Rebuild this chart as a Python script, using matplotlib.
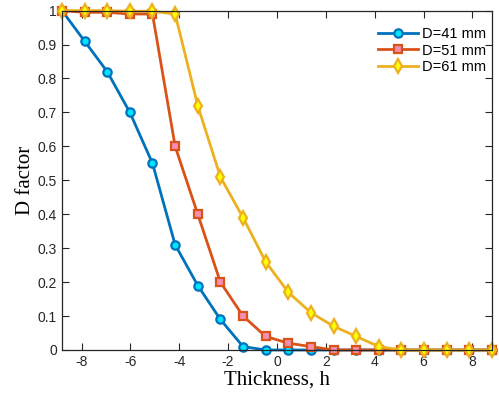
import numpy as np
import matplotlib
matplotlib.use("Agg")
import matplotlib.pyplot as plt

# Thickness samples (20 evenly spaced points across the scan)
h = [-8.8, -7.874, -6.947, -6.021, -5.095, -4.168, -3.242, -2.316, -1.389, -0.463,
     0.463, 1.389, 2.316, 3.242, 4.168, 5.095, 6.021, 6.947, 7.874, 8.8]

d41 = [1.0, 0.91, 0.82, 0.70, 0.55, 0.31, 0.19, 0.09, 0.01, 0.0,
       0.0, 0.0, 0.0, 0.0, 0.0, 0.0, 0.0, 0.0, 0.0, 0.0]
d51 = [1.0, 0.995, 0.995, 0.99, 0.99, 0.60, 0.40, 0.20, 0.10, 0.04,
       0.02, 0.01, 0.0, 0.0, 0.0, 0.0, 0.0, 0.0, 0.0, 0.0]
d61 = [1.0, 1.0, 1.0, 0.998, 0.998, 0.99, 0.72, 0.51, 0.39, 0.26,
       0.17, 0.11, 0.07, 0.04, 0.01, 0.0, 0.0, 0.0, 0.0, 0.0]

labels = ["D=41 mm", "D=51 mm", "D=61 mm"]
xticks = [-8, -6, -4, -2, 0, 2, 4, 6, 8]
yticks = [0, 0.1, 0.2, 0.3, 0.4, 0.5, 0.6, 0.7, 0.8, 0.9, 1]

plt.rcParams['font.family'] = ['Liberation Sans', 'DejaVu Sans']

fig = plt.figure(figsize=(4.99, 3.96), dpi=100)
ax = fig.add_axes([0.1242, 0.1162, 0.8617, 0.857])

ax.plot(h, d41, '-o', color='#0072BD', lw=2, ms=6, mfc='#00E5FF', mec='#0072BD', mew=1.6,
        label=labels[0], clip_on=False)
ax.plot(h, d51, '-s', color='#D95319', lw=2, ms=5.5, mfc='#F48FB1', mec='#D95319', mew=1.6,
        label=labels[1], clip_on=False)
ax.plot(h, d61, '-d', color='#EDB120', lw=2, ms=7.5, mfc='#FFFF00', mec='#EDB120', mew=1.6,
        label=labels[2], clip_on=False)

ax.set_xlim(-8.8, 8.8)
ax.set_ylim(0, 1)
ax.set_xticks(xticks)
ax.set_xticklabels([str(t) for t in xticks])
ax.set_yticks(yticks)
ax.set_yticklabels(["0" if t == 0 else ("1" if t == 1 else f"{t:.1f}") for t in yticks])
ax.tick_params(direction='in', top=True, right=True, length=5, width=0.8,
               labelsize=10, colors='#262626')
for s in ax.spines.values():
    s.set_color('#262626')
    s.set_linewidth(0.9)

ax.set_xlabel("Thickness, h", family=['Liberation Serif'], fontsize=15, labelpad=1)
ax.set_ylabel("D factor", family=['Liberation Serif'], fontsize=15, labelpad=2)

ax.legend(loc='upper right', bbox_to_anchor=(1.0, 0.97), frameon=False, fontsize=10.5,
          handlelength=2.8, handletextpad=0.25, labelspacing=0.2, borderaxespad=0)

fig.savefig("out.png", dpi=100)
